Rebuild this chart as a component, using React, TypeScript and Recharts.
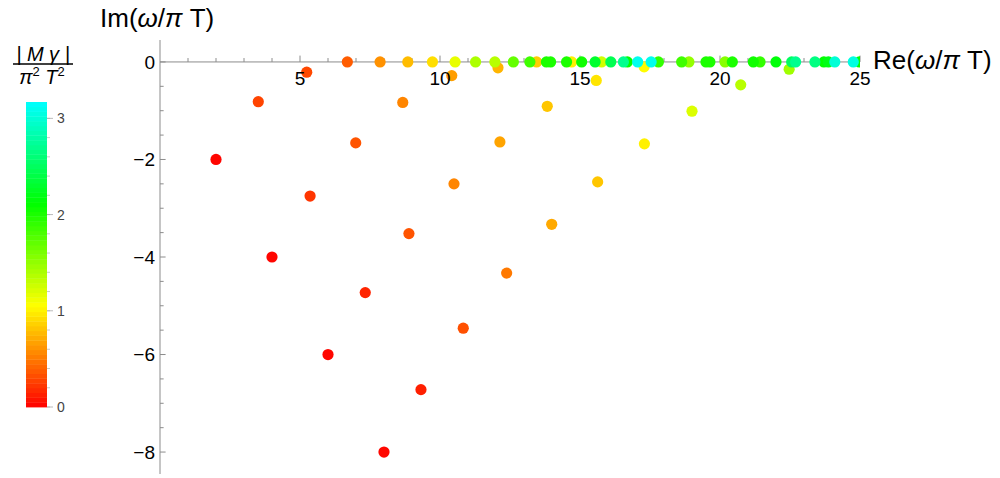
import { ScatterChart, Scatter, XAxis, YAxis, ReferenceLine } from "recharts";

// poles off the real axis: Re, Im and |M gamma| / (pi^2 T^2)
const offRe = [2, 4, 6, 8, 3.51, 5.36, 7.33, 9.32, 5.24, 6.99, 8.89, 10.83, 8.67, 10.5, 12.38, 10.42, 12.14, 13.99, 12.07, 13.83, 15.63, 15.58, 17.3, 17.29, 19.0, 20.74, 22.47];
const offIm = [-2, -4, -6, -8, -0.815, -2.75, -4.73, -6.72, -0.21, -1.66, -3.52, -5.46, -0.83, -2.5, -4.33, -0.28, -1.64, -3.33, -0.12, -0.91, -2.46, -0.38, -1.68, -0.1, -1.01, -0.47, -0.15];
const offMag = [0.02, 0.02, 0.03, 0.03, 0.28, 0.22, 0.15, 0.13, 0.3, 0.35, 0.35, 0.33, 0.55, 0.55, 0.5, 0.65, 0.68, 0.7, 0.75, 0.82, 0.82, 0.95, 1.0, 1.05, 1.2, 1.35, 1.45];

// poles sitting on the real axis (Im = 0)
const axisRe = [6.69, 7.86, 8.85, 9.73, 10.54, 11.27, 11.96, 12.62, 13.21, 13.45, 13.8, 13.95, 14.52, 14.7, 15.06, 15.54, 15.77, 16.1, 16.55, 16.69, 17.06, 17.54, 17.8, 18.63, 18.89, 19.5, 19.64, 20.18, 20.44, 21.19, 21.43, 22.0, 22.56, 22.7, 23.39, 23.71, 23.87, 24.1, 24.76, 24.98];
const axisMag = [0.38, 0.6, 0.78, 0.92, 1.15, 1.4, 1.35, 1.7, 1.85, 0.85, 2.0, 2.0, 2.0, 1.0, 2.05, 2.3, 1.25, 2.45, 2.7, 2.1, 3.1, 3.1, 1.9, 1.85, 1.5, 2.0, 2.0, 1.55, 2.0, 2.05, 1.9, 2.15, 2.5, 2.7, 2.65, 2.1, 2.2, 3.0, 3.05, 2.1];

const xMajor = [5, 10, 15, 20, 25];
const xMinor = [1, 2, 3, 4, 6, 7, 8, 9, 11, 12, 13, 14, 16, 17, 18, 19, 21, 22, 23, 24];
const yMajor = [-8, -6, -4, -2, 0];
const yMinor = [-7.5, -7, -6.5, -5.5, -5, -4.5, -3.5, -3, -2.5, -1.5, -1, -0.5];
const barTicks = [0, 1, 2, 3];
const barMax = 3.17;

const hue = (m: number) => `hsl(${Math.min(m, barMax) * 56.8}, 100%, 50%)`;

const offData = offRe.map((re, i) => ({ re, im: offIm[i], m: offMag[i] }));
const axisData = axisRe
  .map((re, i) => ({ re, im: 0, m: axisMag[i] }))
  .sort((a, b) => a.m - b.m);

const fmt = (v: number) => (v < 0 ? "\u2212" + Math.abs(v) : String(v));

const Dot = (props: any) => {
  if (props.cx == null) return null;
  return <circle cx={props.cx} cy={props.cy} r={5.6} fill={hue(props.payload.m)} />;
};

const AXIS = "#8c8c8c";

function ColorBar() {
  const top = 102;
  const bottom = 407;
  const yOf = (v: number) => bottom - (v / barMax) * (bottom - top);
  const bands = Array.from({ length: 64 }, (_, i) => i);
  const bh = (bottom - top) / 64;
  const minors = Array.from({ length: 16 }, (_, i) => +(i * 0.2).toFixed(1));
  return (
    <g>
      {bands.map((i) => (
        <rect
          key={i}
          x={26}
          y={bottom - (i + 1) * bh}
          width={21}
          height={bh + 0.4}
          fill={hue(((i + 0.5) / 64) * barMax)}
        />
      ))}
      {minors.map((v) => (
        <line key={v} x1={47} x2={50} y1={yOf(v)} y2={yOf(v)} stroke="#bbb" strokeWidth={0.8} />
      ))}
      {barTicks.map((v) => (
        <g key={v}>
          <line x1={47} x2={53} y1={yOf(v)} y2={yOf(v)} stroke="#aaa" strokeWidth={0.8} />
          <text x={57} y={yOf(v) + 5} fontSize={14} fill="#444">
            {v}
          </text>
        </g>
      ))}
    </g>
  );
}

export default function App() {
  return (
    <div
      style={{
        position: "absolute",
        left: 0,
        top: 0,
        width: 1000,
        height: 478,
        background: "#fff",
        fontFamily: "'Liberation Sans', Arial, sans-serif",
      }}
    >
      <ScatterChart width={1000} height={478} margin={{ top: 40, right: 140, bottom: 4, left: 100 }}>
        <XAxis type="number" dataKey="re" domain={[0, 25]} hide allowDataOverflow />
        <YAxis
          type="number"
          dataKey="im"
          domain={[-8.45, 0.45]}
          ticks={yMajor}
          interval={0}
          tickFormatter={fmt}
          width={60}
          tickLine={false}
          tickSize={0}
          tickMargin={5}
          axisLine={{ stroke: AXIS }}
          tick={{ fill: "#000", fontSize: 19 }}
          allowDataOverflow
        />
        <ReferenceLine segment={[{ x: 0, y: 0 }, { x: 25, y: 0 }]} stroke={AXIS} />
        {xMinor.map((t) => (
          <ReferenceLine key={"xm" + t} segment={[{ x: t, y: 0 }, { x: t, y: 0.08 }]} stroke={AXIS} />
        ))}
        {xMajor.map((t) => (
          <ReferenceLine
            key={"xM" + t}
            segment={[{ x: t, y: 0 }, { x: t, y: 0.13 }]}
            stroke={AXIS}
            label={{ value: t, position: "bottom", offset: 10, fill: "#000", fontSize: 19 }}
          />
        ))}
        {yMinor.map((t) => (
          <ReferenceLine key={"ym" + t} segment={[{ x: 0, y: t }, { x: 0.13, y: t }]} stroke={AXIS} />
        ))}
        {yMajor.map((t) => (
          <ReferenceLine key={"yM" + t} segment={[{ x: 0, y: t }, { x: 0.2, y: t }]} stroke={AXIS} />
        ))}
        <Scatter data={offData} shape={Dot} isAnimationActive={false} />
        <Scatter data={axisData} shape={Dot} isAnimationActive={false} />
      </ScatterChart>
      <svg
        width={1000}
        height={478}
        style={{ position: "absolute", left: 0, top: 0, pointerEvents: "none" }}
      >
        <text x={100} y={27} fontSize={26} fill="#000">
          Im(<tspan fontStyle="italic">ω</tspan>/<tspan fontStyle="italic">π</tspan> T)
        </text>
        <text x={873} y={69} fontSize={26} fill="#000">
          Re(<tspan fontStyle="italic">ω</tspan>/<tspan fontStyle="italic">π</tspan> T)
        </text>
        <text x={43} y={61} fontSize={20} fontStyle="italic" textAnchor="middle" fill="#000">
          | M γ |
        </text>
        <line x1={13} x2={73} y1={64} y2={64} stroke="#000" strokeWidth={1.4} />
        <text x={42} y={84} fontSize={20} fontStyle="italic" textAnchor="middle" fill="#000">
          π<tspan fontSize={13} fontStyle="normal" dy={-8}>2</tspan>
          <tspan dy={8}> T</tspan>
          <tspan fontSize={13} fontStyle="normal" dy={-8}>2</tspan>
        </text>
        <ColorBar />
      </svg>
    </div>
  );
}
